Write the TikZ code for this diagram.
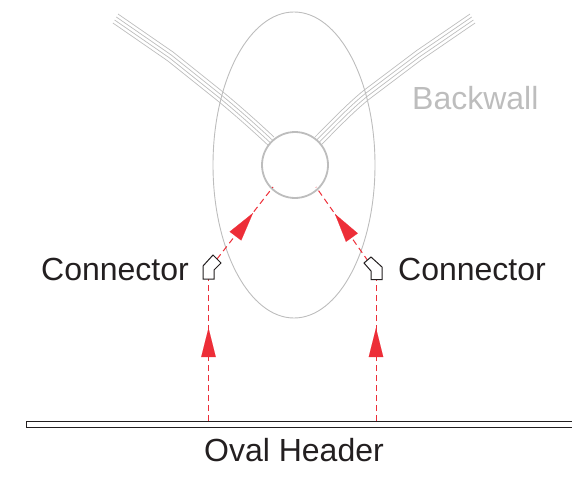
\documentclass[tikz,border=0pt]{standalone}
\usepackage{fontspec}
\setmainfont{Liberation Sans}
\usetikzlibrary{arrows.meta,calc,shapes.geometric}
\definecolor{flowred}{HTML}{ED2E38}
\definecolor{wallgray}{HTML}{BDBDBD}
\definecolor{inkdark}{HTML}{231F20}
\tikzset{
  x=1pt,y=-1pt,
  wall/.style={draw=wallgray,line width=0.9pt,fill=none},
  tube/.style={draw=wallgray,line width=0.7pt,line join=round},
  flow/.style={draw=flowred,line width=1pt,dash pattern=on 6pt off 4pt},
  flowhead/.style={draw=flowred,line width=0.1pt,-{Triangle[length=29pt,width=14.5pt,fill=flowred]}},
  part/.style={draw=inkdark,line width=1pt,fill=white,line join=miter},
  label/.style={inner sep=0pt,text=inkdark,font=\fontsize{32}{36}\selectfont},
}
\begin{document}
\begin{tikzpicture}
\useasboundingbox (0,0) rectangle (572,476);
% backwall
\node[ellipse,wall,minimum width=162pt,minimum height=306pt,inner sep=0pt] (oval) at (294,165) {};
\foreach \t in {0,1,2,3}{
  \draw[tube,shift={(-1.7*\t,3*\t)}] (118,14) -- (173,52) -- (223,92) .. controls (240,106) and (258,122) .. (274,137);
  \draw[tube,shift={(1.7*\t,3*\t)}] (470,14) -- (416,51) -- (363,91) .. controls (346,105) and (330,122) .. (315,137);
}
\node[circle,draw=wallgray,line width=1.8pt,fill=white,minimum size=66pt,inner sep=0pt] (hub) at (295,165) {};
% header
\node[draw=inkdark,line width=1.2pt,fill=white,minimum width=546pt,minimum height=6pt,inner sep=0pt,anchor=north west] (header) at (26,421) {};
% connector outlets
\coordinate (lfoot) at (208.5,279);
\coordinate (rfoot) at (376,279);
\coordinate (ltop) at (217,259);
\coordinate (rtop) at (368,261);
\coordinate (lhub) at (273,187);
\coordinate (rhub) at (316,187);
\coordinate (lbase) at (208.5,421);
\coordinate (rbase) at (376,421);
% dashed flows
\draw[flow] (lbase) -- (lfoot);
\draw[flow] (rbase) -- (rfoot);
\draw[flow] (ltop) -- (lhub);
\draw[flow] (rtop) -- (rhub);
% arrowheads
\coordinate (la) at (208.5,357); \coordinate (lb) at (208.5,328);
\coordinate (ra) at (376,357);   \coordinate (rb) at (376,328);
\coordinate (lc) at (235.5,236); \coordinate (ld) at (253,213);
\coordinate (rc) at (351.5,237); \coordinate (rd) at (335,214);
\draw[flowhead] (la) -- (lb);
\draw[flowhead] (ra) -- (rb);
\draw[flowhead] (lc) -- (ld);
\draw[flowhead] (rc) -- (rd);
% connectors
\draw[part] (203,279) -- (203,266) -- (213,255) -- (221,263) -- (214,270) -- (214,279) -- cycle;
\draw[part] (382,279.5) -- (382,267) -- (371,257) -- (364,263) -- (371,271) -- (371,279.5) -- cycle;
% labels
\node[label,anchor=base east] (lconn) at (189,280) {Connector};
\node[label,anchor=base west] (rconn) at (398,280) {Connector};
\node[label,anchor=base] (hdr) at (294,461) {Oval Header};
\node[label,anchor=base west,text=wallgray] (wall) at (412,110) {Backwall};
\end{tikzpicture}
\end{document}
